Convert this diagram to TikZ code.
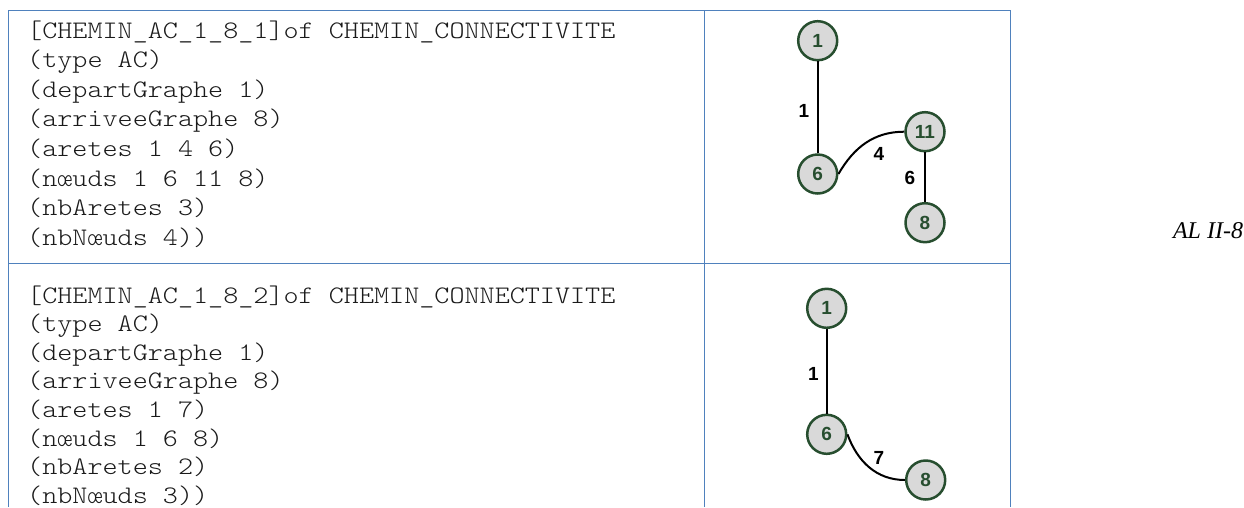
\documentclass[tikz,border=0pt]{standalone}
\usepackage{fontspec}
\setmainfont{Liberation Serif}
\newfontfamily\codefont{lmmonolt10-regular.otf}[FakeStretch=1.14]
\newfontfamily\labfont{Liberation Sans}
\definecolor{tblue}{HTML}{4F81BD}
\definecolor{ngreen}{HTML}{274E2F}
\definecolor{nfill}{HTML}{D9D9D9}
\definecolor{codegray}{HTML}{1A1A1A}
\begin{document}
\begin{tikzpicture}[x=1pt,y=1pt,
  tline/.style={draw=tblue,line width=1pt},
  gnode/.style={circle,draw=ngreen,fill=nfill,line width=2.5pt,minimum size=39pt,inner sep=0pt,
    font=\labfont\fontsize{19}{19}\selectfont\bfseries,text=ngreen},
  gedge/.style={draw=black,line width=2pt},
  elab/.style={font=\labfont\fontsize{19}{19}\selectfont\bfseries,text=black,inner sep=0pt},
  codeline/.style={anchor=base west,inner sep=0pt,font=\codefont\fontsize{25.2}{29}\selectfont,text=codegray}]
\useasboundingbox (0,0) rectangle (1244,-507);
% table
\draw[tline] (8,-507) -- (8,-10) -- (1010,-10) -- (1010,-507);
\draw[tline] (704,-10) -- (704,-507);
\draw[tline] (8,-263.3) -- (1010,-263.3);
% code block 1
\foreach \t [count=\i from 0] in {{[CHEMIN\_AC\_1\_8\_1]of CHEMIN\_CONNECTIVITE},{(type AC)},{(departGraphe 1)},{(arriveeGraphe 8)},{(aretes 1 4 6)},{(nœuds 1 6 11 8)},{(nbAretes 3)},{(nbNœuds 4))}}
  \node[codeline] (a\i) at (27,-38-29.6*\i) {\t};
\foreach \t [count=\i from 0] in {{[CHEMIN\_AC\_1\_8\_2]of CHEMIN\_CONNECTIVITE},{(type AC)},{(departGraphe 1)},{(arriveeGraphe 8)},{(aretes 1 7)},{(nœuds 1 6 8)},{(nbAretes 2)},{(nbNœuds 3))}}
  \node[codeline] (b\i) at (27,-303-28.6*\i) {\t};
% graph 1
\node[gnode] (g1a) at (817.7,-40.7) {1};
\node[gnode] (g6a) at (817.7,-174) {6};
\node[gnode] (g11a) at (925,-131.7) {11};
\node[gnode] (g8a) at (925,-222.7) {8};
\draw[gedge] (g1a) -- (g6a);
\draw[gedge] (g6a.east) to[out=60,in=180] (g11a.west);
\draw[gedge] (g11a) -- (g8a);
\node[elab] (l1a) at (804,-110.7) {1};
\node[elab] (l4a) at (879,-154) {4};
\node[elab] (l6a) at (910,-178) {6};
% graph 2
\node[gnode] (g1b) at (826.7,-308.3) {1};
\node[gnode] (g6b) at (826.7,-434.3) {6};
\node[gnode] (g8b) at (925.7,-480) {8};
\draw[gedge] (g1b) -- (g6b);
\draw[gedge] (g6b.east) to[out=-70,in=180] (g8b.west);
\node[elab] (l1b) at (813.3,-374) {1};
\node[elab] (l7b) at (879,-458.3) {7};
% side label
\node[font=\fontsize{24}{24}\selectfont\itshape,inner sep=0pt] (al) at (1208,-231) {AL II-8};
\end{tikzpicture}
\end{document}
